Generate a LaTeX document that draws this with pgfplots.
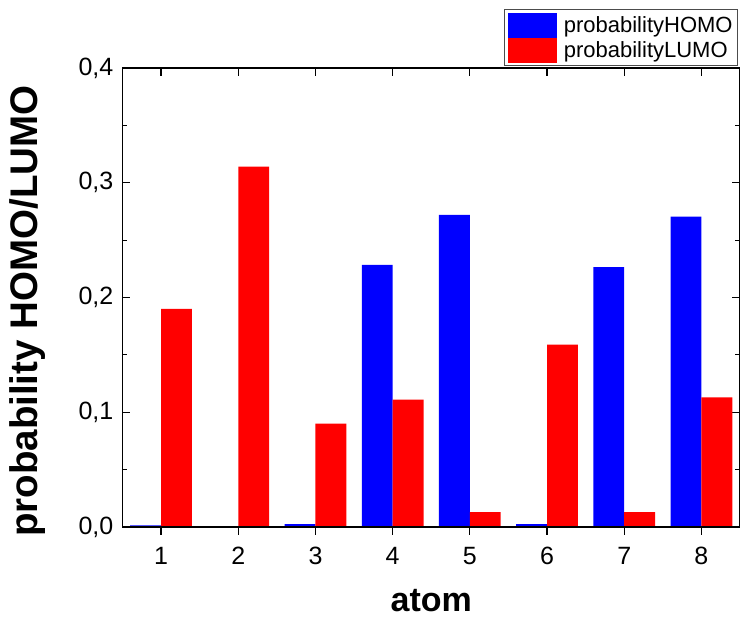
\documentclass[border=0pt]{standalone}
\usepackage{fontspec}
\setmainfont{Liberation Sans}
\usepackage{pgfplots}
\usepackage{pgfplotstable}
\pgfplotsset{compat=1.18}

\pgfplotstableread{
atom homo   lumo
1    0.0015 0.190
2    0.0000 0.314
3    0.0025 0.090
4    0.2285 0.111
5    0.2720 0.013
6    0.0025 0.159
7    0.2265 0.013
8    0.2705 0.113
}\probtable

\begin{document}
\begin{tikzpicture}
\useasboundingbox (-122.5pt,-91pt) rectangle (617.5pt,527pt);
% main axis: bars, y ticks, inward top ticks
\begin{axis}[
  at={(0,0)}, anchor=south west,
  scale only axis, width=617.5pt, height=459pt,
  xmin=0.5, xmax=8.5, ymin=0, ymax=0.4,
  axis line style={line width=1.5pt},
  every tick/.style={black, line width=1.2pt},
  major tick length=8pt, minor tick length=4.5pt,
  tick align=inside,
  xtick={1,2,3,4,5,6,7,8}, xticklabels={}, xtick pos=top,
  ytick={0,0.1,0.2,0.3,0.4}, minor ytick={0.05,0.15,0.25,0.35},
  ytick pos=both, yticklabel pos=left,
  yticklabels={{0,0},{0,1},{0,2},{0,3},{0,4}},
  yticklabel style={font=\fontsize{25}{29}\selectfont, inner sep=0pt, xshift=-9pt},
  ylabel={probability HOMO/LUMO},
  ylabel style={font=\fontsize{38.5}{46}\selectfont\bfseries,
    at={(axis description cs:-0.137,0.47)}, anchor=base},
  legend style={at={(1,1)}, anchor=south east, xshift=-2pt, yshift=2pt,
    draw=black!70, line width=0.8pt, font=\fontsize{22}{26}\selectfont,
    inner sep=3pt, row sep=0pt, column sep=5pt,
    cells={anchor=west, inner sep=2pt}},
  legend image code/.code={\fill[#1] (0pt,-12.5pt) rectangle (49pt,12.5pt);},
]
\addplot[ybar, bar width=0.4, bar shift=-0.2, fill=blue, draw=none]
  table[x=atom, y=homo] {\probtable};
\addplot[ybar, bar width=0.4, bar shift=0.2, fill=red, draw=none]
  table[x=atom, y=lumo] {\probtable};
\legend{probabilityHOMO, probabilityLUMO}
\end{axis}
% second axis: outward bottom ticks, labels
\begin{axis}[
  at={(0,0)}, anchor=south west,
  scale only axis, width=617.5pt, height=459pt,
  xmin=0.5, xmax=8.5, ymin=0, ymax=0.4,
  axis x line*=bottom, axis y line=none,
  axis line style={line width=1.5pt},
  every tick/.style={black, line width=1.2pt},
  major tick length=8pt,
  tick align=outside,
  xtick={1,2,3,4,5,6,7,8}, xticklabels={1,2,3,4,5,6,7,8},
  xticklabel style={font=\fontsize{25}{29}\selectfont, inner sep=0pt, anchor=north, yshift=-12pt},
  xlabel={atom},
  xlabel style={font=\fontsize{34}{40}\selectfont\bfseries,
    at={(axis description cs:0.5,-0.184)}, anchor=base},
]
\end{axis}
\end{tikzpicture}
\end{document}
